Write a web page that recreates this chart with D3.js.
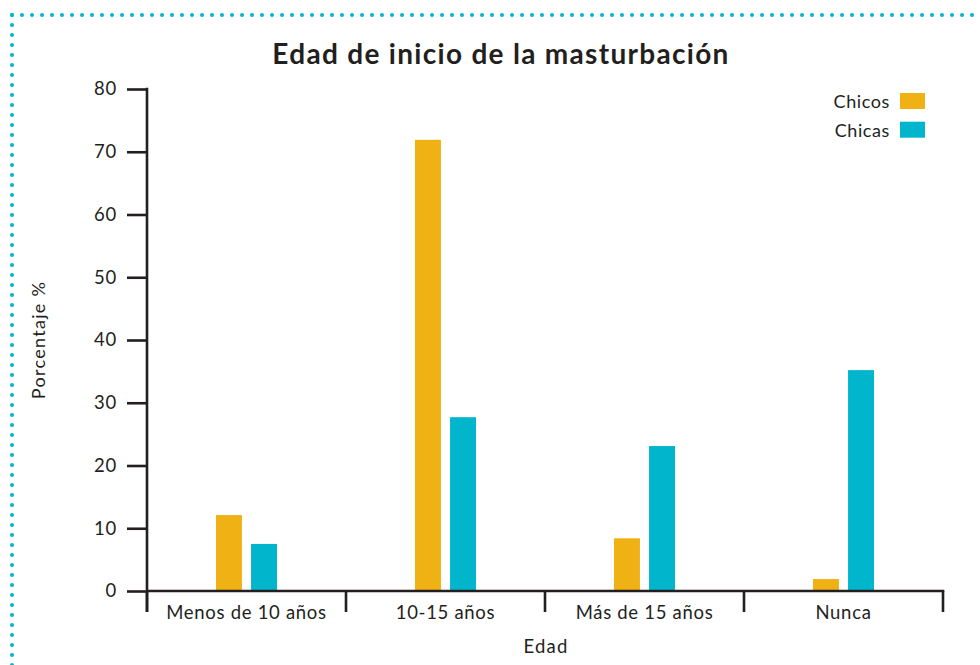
<!DOCTYPE html>
<html><head><meta charset="utf-8">
<script src="https://cdn.jsdelivr.net/npm/d3@7"></script>
<style>
html,body{margin:0;padding:0;background:#fff;}
svg text{font-family:Lato,"Noto Sans",sans-serif;fill:#231f20;}
</style></head>
<body><svg id="c" width="980" height="665"></svg>
<script>
const categories = ["Menos de 10 años", "10-15 años", "Más de 15 años", "Nunca"];
const seriesNames = ["Chicos", "Chicas"];
const chicos = [12.1, 71.9, 8.4, 1.9];
const chicas = [7.5, 27.7, 23.1, 35.2];
const yTicks = [0, 10, 20, 30, 40, 50, 60, 70, 80];
const colors = ["#F0B114", "#00B5CC"];

const svg = d3.select("#c");
const ink = "#231f20";

// dotted border
svg.append("line").attr("x1", 12).attr("y1", 15).attr("x2", 985).attr("y2", 15)
  .attr("stroke", "#00B5CC").attr("stroke-width", 4).attr("stroke-linecap", "round").attr("stroke-dasharray", "0 10");
svg.append("line").attr("x1", 12).attr("y1", 15).attr("x2", 12).attr("y2", 670)
  .attr("stroke", "#00B5CC").attr("stroke-width", 4).attr("stroke-linecap", "round").attr("stroke-dasharray", "0 10");

const x0 = 147, x1 = 943, yTop = 89, yBot = 591;
const x = d3.scaleBand().domain(categories).range([x0, x1]).padding(0);
const y = d3.scaleLinear().domain([0, 80]).range([yBot, yTop]);
const xs = d3.scaleBand().domain(seriesNames).range([x.bandwidth()/2 - 30.5, x.bandwidth()/2 + 30.5]).paddingInner(0.26);

// title
svg.append("text").attr("x", 501).attr("y", 64).attr("text-anchor", "middle")
  .style("font-size", "28px").style("font-weight", "bold").style("letter-spacing", "1.3px")
  .text("Edad de inicio de la masturbación");

// bars
const data = categories.map((c, i) => ({c, vals: [chicos[i], chicas[i]]}));
const g = svg.append("g");
data.forEach(d => {
  d.vals.forEach((v, j) => {
    g.append("rect")
      .attr("x", x(d.c) + xs(seriesNames[j]))
      .attr("width", xs.bandwidth())
      .attr("y", y(v))
      .attr("height", y(0) - y(v))
      .attr("fill", colors[j]);
  });
});

// y axis
const yAxis = d3.axisLeft(y).tickValues(yTicks).tickSize(20).tickPadding(10).tickSizeOuter(0);
const ya = svg.append("g").attr("transform", `translate(${x0},0)`).call(yAxis);
ya.select(".domain").remove();
ya.selectAll(".tick line").attr("stroke", ink).attr("stroke-width", 2.6);
ya.selectAll(".tick text").style("font-size", "18.5px").style("letter-spacing", "0.8px").attr("fill", ink)
  .style("font-family", "Lato, sans-serif");
svg.append("line").attr("x1", x0).attr("x2", x0).attr("y1", yTop - 1.3).attr("y2", 612)
  .attr("stroke", ink).attr("stroke-width", 2.6);

// x axis
svg.append("line").attr("x1", x0).attr("x2", x1 + 1.3).attr("y1", yBot).attr("y2", yBot)
  .attr("stroke", ink).attr("stroke-width", 2.6);
const xa = svg.append("g");
x.domain().concat(["end"]).forEach((c, i) => {
  const px = c === "end" ? x1 : x(c);
  xa.append("line").attr("x1", px).attr("x2", px).attr("y1", yBot).attr("y2", 612)
    .attr("stroke", ink).attr("stroke-width", 2.6);
});
categories.forEach(c => {
  xa.append("text").attr("x", x(c) + x.bandwidth()/2).attr("y", 619).attr("text-anchor", "middle")
    .style("font-size", "18.5px").style("letter-spacing", "0.7px").text(c);
});

// axis titles
svg.append("text").attr("x", 546).attr("y", 653).attr("text-anchor", "middle")
  .style("font-size", "18.5px").style("letter-spacing", "1.2px").text("Edad");
svg.append("text").attr("transform", "translate(45,340) rotate(-90)").attr("text-anchor", "middle")
  .style("font-size", "18px").style("letter-spacing", "1.3px").text("Porcentaje %");

// legend
seriesNames.forEach((s, i) => {
  const ly = 93 + i * 28.7;
  svg.append("rect").attr("x", 900).attr("y", ly).attr("width", 25).attr("height", 16).attr("fill", colors[i]);
  svg.append("text").attr("x", 890).attr("y", ly + 15).attr("text-anchor", "end")
    .style("font-size", "18px").style("letter-spacing", "0.6px").text(s);
});
</script></body></html>
